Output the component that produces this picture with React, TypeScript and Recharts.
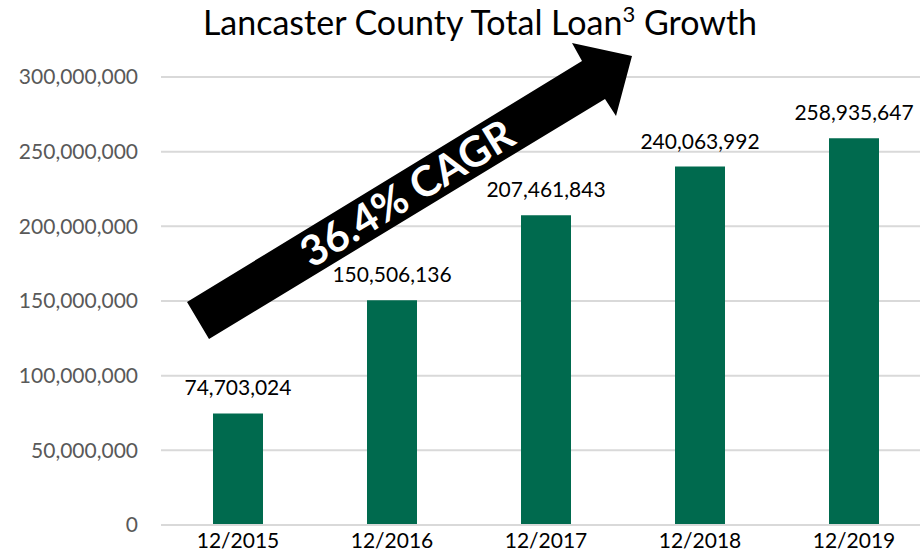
import { BarChart, Bar, XAxis, YAxis, CartesianGrid, LabelList } from 'recharts';

const periods = ['12/2015', '12/2016', '12/2017', '12/2018', '12/2019'];
const totalLoans = [74703024, 150506136, 207461843, 240063992, 258935647];
const yTicks = [0, 50000000, 100000000, 150000000, 200000000, 250000000, 300000000];

const data = periods.map((p, i) => ({ period: p, loans: totalLoans[i] }));

const FONT = 'Lato, "Open Sans", sans-serif';
const fmt = (v: number) => v.toLocaleString('en-US');

// arrow annotation drawn over the plot
const arrowPts = '187,302 582,61 572,43 632,56 616,116 605,99 209,339';

export default function App() {
  return (
    <div style={{ position: 'fixed', left: 0, top: 0, width: 920, height: 553, overflow: 'hidden', background: '#fff', fontFamily: FONT }}>
      <BarChart width={940} height={553} data={data} margin={{ top: 77, right: 9, left: 0, bottom: 0 }}>
        <CartesianGrid vertical={false} stroke="#d9d9d9" strokeWidth={2} />
        <XAxis
          dataKey="period"
          height={28}
          axisLine={{ stroke: '#d9d9d9', strokeWidth: 2 }}
          tickLine={false}
          tick={{ fill: '#000', fontSize: 21, fontFamily: FONT }}
        />
        <YAxis
          width={161}
          domain={[0, 300000000]}
          ticks={yTicks}
          axisLine={false}
          tickLine={false}
          tickMargin={17}
          tickFormatter={fmt}
          tick={{ fill: '#595959', fontSize: 21, fontFamily: FONT }}
        />
        <Bar dataKey="loans" fill="#006a4e" barSize={50} isAnimationActive={false}>
          <LabelList dataKey="loans" position="top" offset={18} formatter={(v: any) => fmt(Number(v))} style={{ fill: '#000', fontSize: 21, fontFamily: FONT }} />
        </Bar>
      </BarChart>
      <svg width={920} height={553} style={{ position: 'absolute', left: 0, top: 0, pointerEvents: 'none' }}>
        <text x={480} y={35} textAnchor="middle" fontSize={34} fontFamily={FONT} fill="#000">
          Lancaster County Total Loan<tspan fontSize={22} dy={-13}>3</tspan>
          <tspan dy={13}> Growth</tspan>
        </text>
        <polygon points={arrowPts} fill="#000" />
        <text
          x={0}
          y={15}
          textAnchor="middle"
          fontSize={42}
          fontWeight="bold"
          fontFamily={FONT}
          fill="#fff"
          transform="translate(407,193) rotate(-31.4)"
        >
          36.4% CAGR
        </text>
      </svg>
    </div>
  );
}
